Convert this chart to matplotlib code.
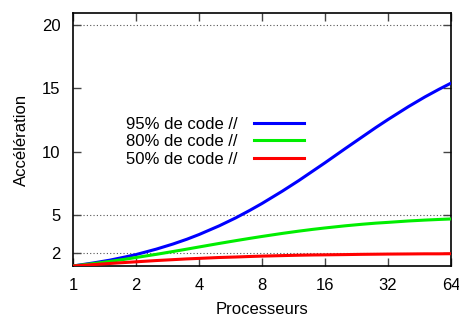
import matplotlib
matplotlib.use('Agg')
import matplotlib.pyplot as plt

plt.rcParams['font.family'] = ['Liberation Sans', 'DejaVu Sans']

# Values (processors vs. speedup)
procs = [1, 1.25, 1.5, 1.75, 2, 2.5, 3, 3.5, 4, 5, 6, 7, 8, 10, 12, 14, 16,
         20, 24, 28, 32, 40, 48, 56, 64]
speed_95 = [1.0, 1.24, 1.46, 1.69, 1.90, 2.33, 2.73, 3.11, 3.48, 4.17, 4.80, 5.39,
            5.93, 6.90, 7.74, 8.49, 9.14, 10.26, 11.16, 11.92, 12.55, 13.56,
            14.33, 14.93, 15.42]
speed_80 = [1.0, 1.19, 1.36, 1.52, 1.67, 1.92, 2.14, 2.33, 2.50, 2.78, 3.00, 3.18,
            3.33, 3.57, 3.75, 3.89, 4.00, 4.17, 4.29, 4.38, 4.44, 4.55, 4.62,
            4.67, 4.71]
speed_50 = [1.0, 1.11, 1.20, 1.27, 1.33, 1.43, 1.50, 1.56, 1.60, 1.67, 1.71, 1.75,
            1.78, 1.82, 1.85, 1.87, 1.88, 1.90, 1.92, 1.93, 1.94, 1.95, 1.96,
            1.96, 1.97]
labels = ['95% de code //', '80% de code //', '50% de code //']
colors = ['#0000ff', '#00ee00', '#ff0000']
x_ticks = [1, 2, 4, 8, 16, 32, 64]
y_ticks = [2, 5, 10, 15, 20]
grid_levels = [2, 5, 20]

fig = plt.figure(figsize=(4.6, 3.2), dpi=100)
ax = fig.add_axes([73/460, 1 - 266/320, (451-73)/460, (266-13)/320])

for y in grid_levels:
    ax.axhline(y, color='#555555', linestyle=(0, (1, 2)), linewidth=0.8, zorder=1)

for ys, lab, c in zip([speed_95, speed_80, speed_50], labels, colors):
    ax.plot(procs, ys, color=c, linewidth=2.2, label=lab, zorder=3)

ax.set_xscale('log', base=2)
ax.set_xlim(1, 64)
ax.set_ylim(1, 20.95)
ax.set_xticks(x_ticks)
ax.set_xticklabels([str(v) for v in x_ticks])
ax.minorticks_off()
ax.set_yticks(y_ticks)
ax.tick_params(direction='in', length=6, width=1, color='#444444', labelsize=12,
               top=True, right=True, pad=9)
for s in ax.spines.values():
    s.set_linewidth(1.2)

ax.set_xlabel('Processeurs', fontsize=12, labelpad=6)
ax.set_ylabel('Accélération', fontsize=12, labelpad=9)

leg = ax.legend(loc='upper left', bbox_to_anchor=(0.1, 0.65), frameon=False,
                fontsize=12, markerfirst=False, handlelength=3.0,
                handletextpad=1.0, labelspacing=0.15)
for t in leg.get_texts():
    t.set_ha('right')

fig.savefig('out.png', dpi=100)
